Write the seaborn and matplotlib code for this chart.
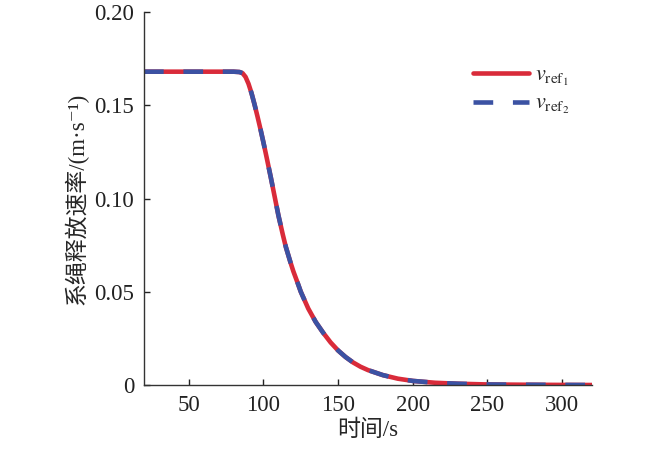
import matplotlib
matplotlib.use("Agg")
import matplotlib.pyplot as plt
import seaborn as sns
import pandas as pd
from matplotlib.ticker import FuncFormatter

# release time (s) and tether release speed (m/s)
t_ref = [20, 40, 60, 80, 84, 86, 88, 90, 92, 94, 96, 98, 100, 102, 105, 108,
         110, 113, 115, 118, 120, 123, 125, 130, 135, 140, 145, 150, 155, 160,
         165, 170, 180, 190, 200, 215, 230, 250, 275, 300, 320]
v_ref1 = [0.168, 0.168, 0.168, 0.168, 0.1678, 0.1672, 0.1652, 0.1615, 0.1565,
          0.1505, 0.1440, 0.1372, 0.1300, 0.1225, 0.1110, 0.0990,
          0.0910, 0.0805, 0.0740, 0.0660, 0.0610, 0.0545, 0.0500, 0.0410,
          0.0338, 0.0280, 0.0228, 0.0185, 0.0150, 0.0121,
          0.0098, 0.0080, 0.0053, 0.0034, 0.0022, 0.0012, 0.0007, 0.0003,
          0.00015, 0.00005, 0.0]
v_ref2 = v_ref1

x_ticks = [50, 100, 150, 200, 250, 300]
y_ticks = [0, 0.05, 0.10, 0.15, 0.20]

df = pd.concat([
    pd.DataFrame({"t": t_ref, "v": v_ref1, "s": "ref1"}),
    pd.DataFrame({"t": t_ref, "v": v_ref2, "s": "ref2"}),
])

sns.set_style("ticks")
plt.rcParams["font.family"] = ["Liberation Serif", "Noto Sans CJK SC", "DejaVu Serif"]
plt.rcParams["mathtext.fontset"] = "stix"

red = "#d92b3a"
blue = "#3b52a3"
dash = (4.3, 4.3)

fig = plt.figure(figsize=(6.5, 4.49), dpi=100)
ax = fig.add_axes([0.2215, 0.1425, 0.6893, 0.8308])

sns.lineplot(data=df, x="t", y="v", hue="s", style="s",
             palette={"ref1": red, "ref2": blue},
             dashes={"ref1": "", "ref2": dash},
             linewidth=3.3, ax=ax, legend=False)

ax.set_xlim(20, 320)
ax.set_ylim(0, 0.20)
ax.set_xticks(x_ticks)
ax.set_yticks(y_ticks)
ax.yaxis.set_major_formatter(FuncFormatter(lambda v, p: "0" if v == 0 else f"{v:.2f}"))
ax.tick_params(direction="in", length=4, width=1, labelsize=16.5, colors="#222222", pad=7)
for s in ["top", "right"]:
    ax.spines[s].set_visible(False)
for s in ["left", "bottom"]:
    ax.spines[s].set_color("#333333")
    ax.spines[s].set_linewidth(1)

ax.set_xlabel("时间/s", fontsize=16.5, labelpad=3)
ax.set_ylabel("系绳释放速率/(m·s⁻¹)", fontsize=16.5, labelpad=4)

h1, = ax.plot([], [], color=red, lw=3.3)
h2, = ax.plot([], [], color=blue, lw=3.3, dashes=dash)
ax.legend([h1, h2], ["$v_{\\mathrm{ref}_1}$", "$v_{\\mathrm{ref}_2}$"],
          loc="upper left", bbox_to_anchor=(0.69, 0.91), frameon=False,
          fontsize=16, handlelength=2.5, labelspacing=0.25, handletextpad=0.3)

fig.savefig("out.png", dpi=100)
